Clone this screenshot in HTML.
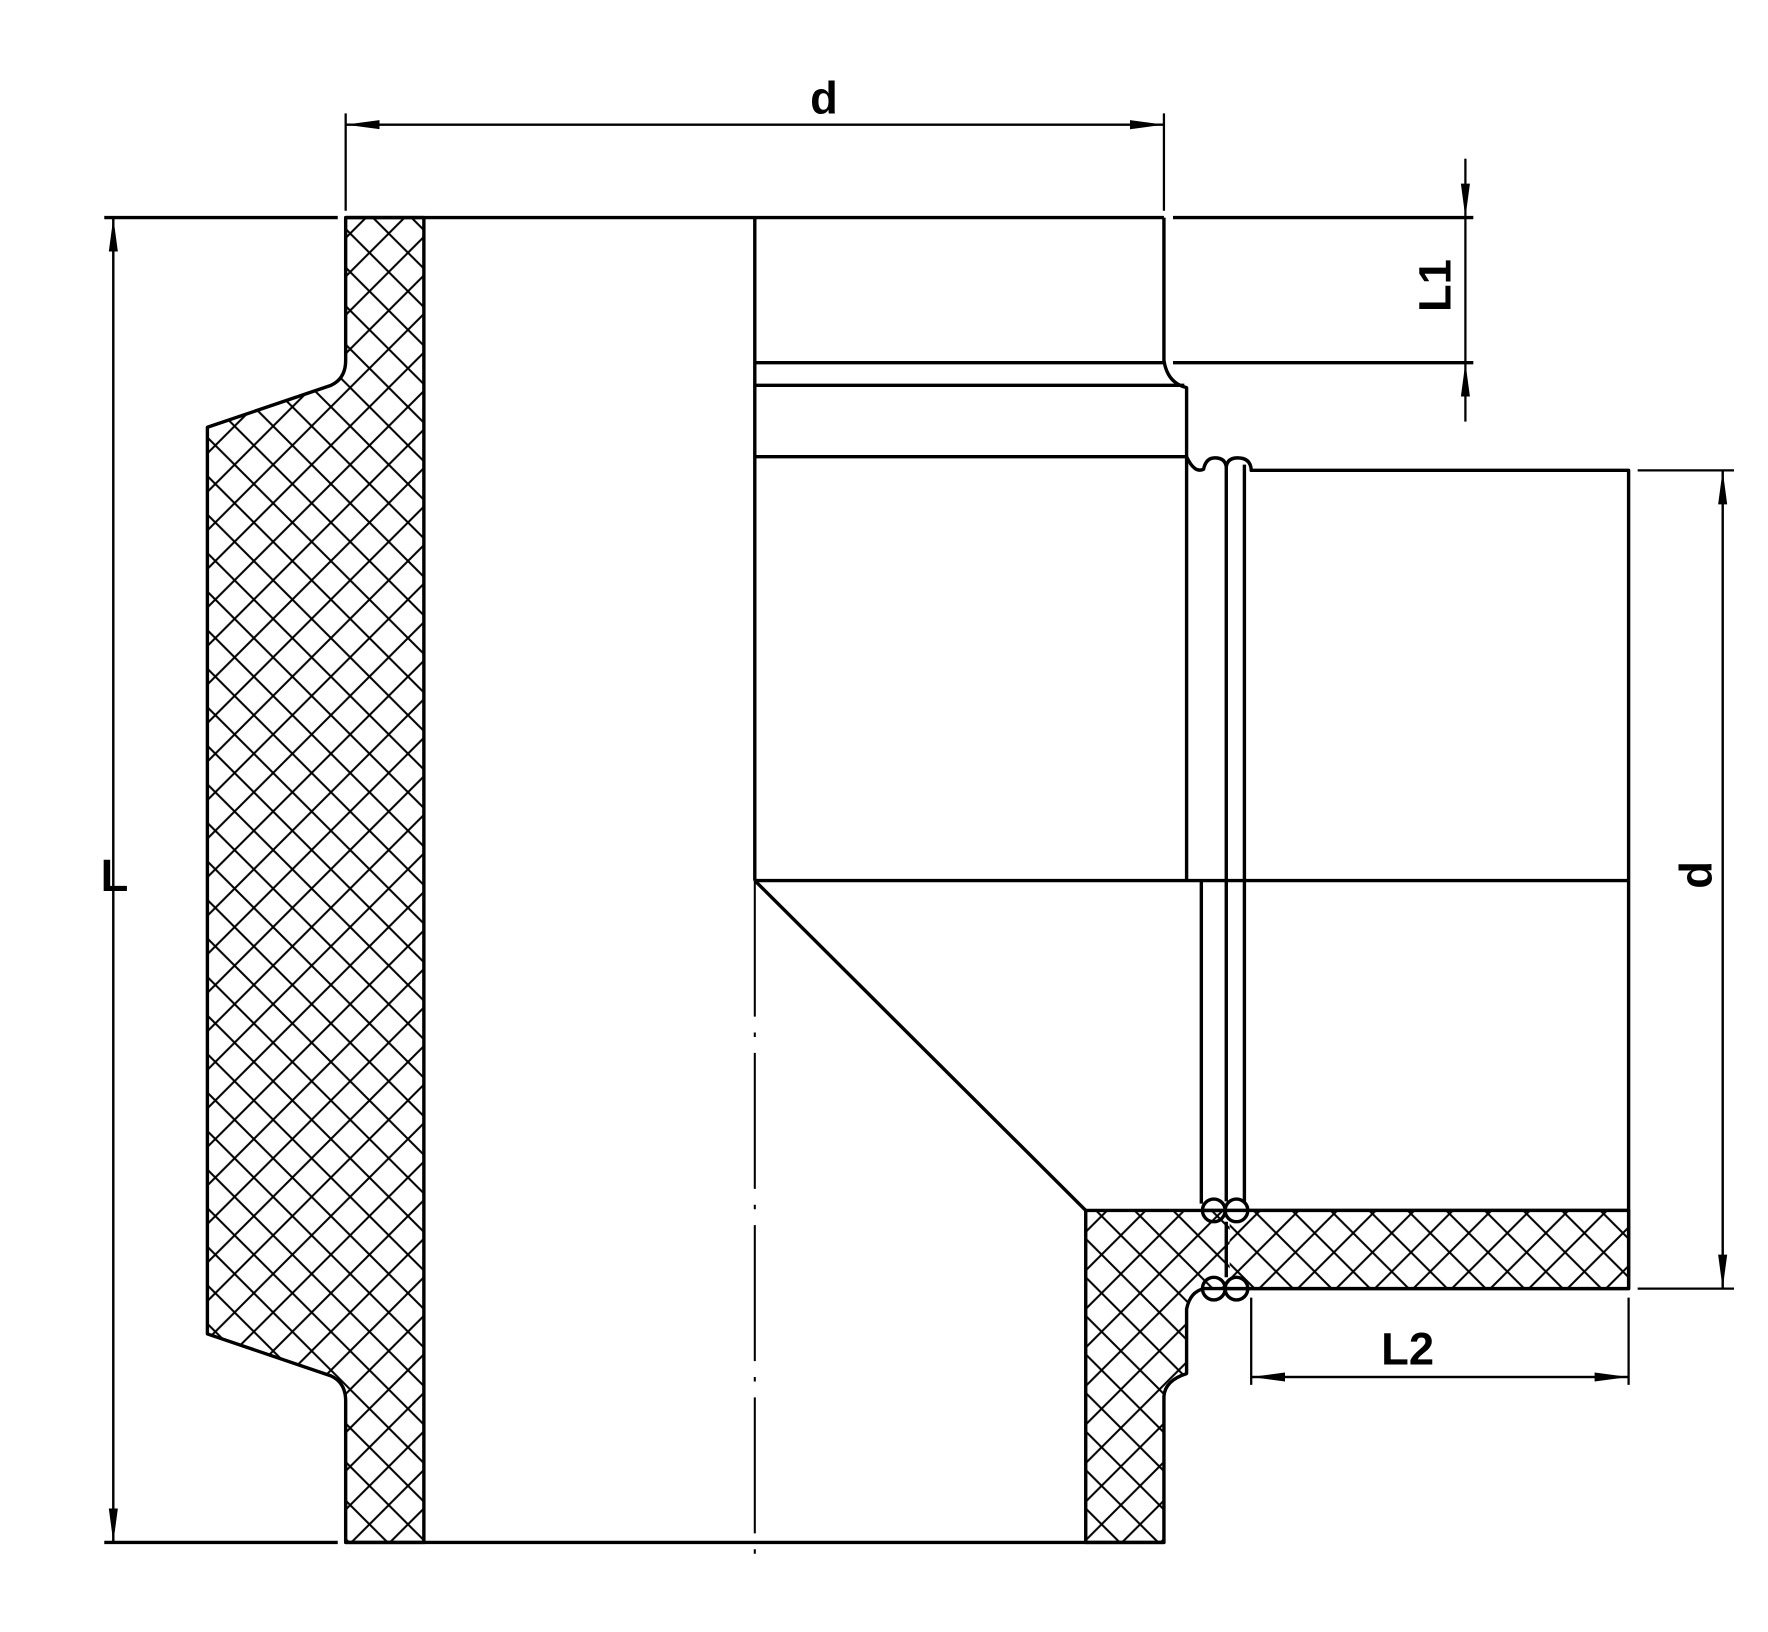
<!DOCTYPE html>
<html><head><style>html,body{margin:0;padding:0;background:#fff}svg{display:block}</style></head>
<body>
<svg width="1768" height="1632" viewBox="0 0 1560 1440" xmlns="http://www.w3.org/2000/svg">
<defs>
<pattern id="h1" width="34" height="34" patternUnits="userSpaceOnUse" x="3" y="2">
<path d="M0 0L34 34M34 0L0 34" stroke="#000" stroke-width="1.8"/>
</pattern>
<pattern id="h2" width="34" height="34" patternUnits="userSpaceOnUse" x="4" y="0">
<path d="M0 0L34 34M34 0L0 34" stroke="#000" stroke-width="1.8"/>
</pattern>
<marker id="a" markerWidth="30" markerHeight="10" refX="30" refY="5" orient="auto" markerUnits="userSpaceOnUse">
<path d="M0 1L30 5L0 9Z" fill="#000"/></marker>
</defs>
<g fill="none" stroke="#000" stroke-width="3" stroke-linejoin="round">
<path d="M305 192L305 318Q305 334 292 340L183 377L183 1177L292 1214Q305 1220 305 1236L305 1361L374 1361L374 192Z" fill="url(#h1)"/>
<path d="M958 1068L1437 1068L1437 1137L1104 1137L1062 1137Q1050 1140 1047 1155L1047 1212Q1028 1218 1027 1232L1027 1361L958 1361Z" fill="url(#h1)"/>
<rect x="1085" y="1069" width="351" height="67" fill="#fff" stroke="none"/>
<rect x="1085" y="1069" width="351" height="67" fill="url(#h2)" stroke="none"/>
<path d="M1060 1068L1437 1068L1437 1137L1082 1137"/>
<path d="M92 192L298 192M305 192L1027 192M1035 192L1300 192"/>
<path d="M92 1361L298 1361M305 1361L1027 1361"/>
<path d="M666 192L666 777M666 777L958 1068"/>
<path d="M666 777L666 1375" stroke-width="1.8" stroke-dasharray="120 14 4 14"/>
<path d="M1027 192L1027 318Q1030 338 1047 342L1047 403"/>
<path d="M666 320L1027 320M666 340L1045 340M666 403L1047 403"/>
<path d="M1035 320L1300 320"/>
<path d="M1047 403Q1054 418 1062 414Q1064 404 1072 404Q1081 404 1082 412Q1083 404 1092 404Q1103 404 1104 414L1104 415L1437 415L1437 777"/>
<path d="M1047 403L1047 777M666 777L1437 777M1060 777L1060 1062"/>
<path d="M1082 412L1082 1060M1098 410L1098 1060"/>
<path d="M1437 777L1437 1068"/>
<circle cx="1071" cy="1068" r="10"/><circle cx="1091" cy="1068" r="10"/>
<circle cx="1071" cy="1137" r="10"/><circle cx="1091" cy="1137" r="10"/>
<path d="M1082 1078L1082 1127"/>
</g>
<g fill="none" stroke="#000" stroke-width="2">
<path d="M305 100L305 186M1027 100L1027 186"/>
<path d="M305 110L1027 110" marker-end="url(#a)"/><path d="M1027 110L305 110" marker-end="url(#a)"/>
<path d="M100 192L100 1361" marker-end="url(#a)"/><path d="M100 1361L100 192" marker-end="url(#a)"/>
<path d="M1293 140L1293 192" marker-end="url(#a)"/><path d="M1293 372L1293 320" marker-end="url(#a)"/>
<path d="M1293 192L1293 320"/>
<path d="M1445 415L1530 415M1445 1137L1530 1137"/>
<path d="M1520 415L1520 1137" marker-end="url(#a)"/><path d="M1520 1137L1520 415" marker-end="url(#a)"/>
<path d="M1104 1145L1104 1222M1437 1145L1437 1222"/>
<path d="M1104 1215L1437 1215" marker-end="url(#a)"/><path d="M1437 1215L1104 1215" marker-end="url(#a)"/>
</g>
<g font-family="Liberation Sans, sans-serif" font-weight="bold" font-size="40" text-anchor="middle">
<text x="727" y="100">d</text>
<text x="101" y="786">L</text>
<text x="1242" y="1204">L2</text>
<text transform="translate(1280,252) rotate(-90)">L1</text>
<text transform="translate(1510,772) rotate(-90)">d</text>
</g>
</svg>
</body></html>
